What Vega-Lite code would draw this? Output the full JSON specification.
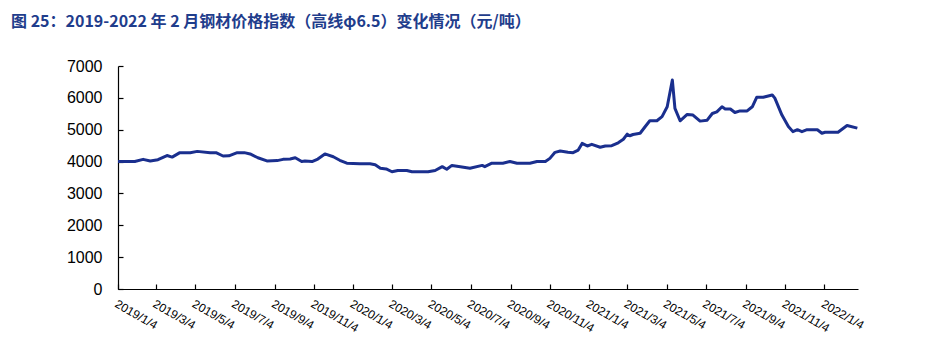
{
  "$schema": "https://vega.github.io/schema/vega-lite/v6.json",
  "width": 740,
  "height": 223,
  "autosize": {"type": "none"},
  "padding": {"left": 118, "top": 66, "right": 87, "bottom": 64},
  "background": "white",
  "title": {
    "text": "图 25：2019-2022 年 2 月钢材价格指数（高线φ6.5）变化情况（元/吨）",
    "anchor": "start",
    "frame": "group",
    "dx": -107,
    "offset": 15,
    "baseline": "alphabetic",
    "font": "Noto Sans CJK SC",
    "fontSize": 16,
    "fontWeight": "bold",
    "color": "#1f3d8c"
  },
  "config": {
    "view": {"stroke": null},
    "axis": {
      "domainColor": "#000000",
      "tickColor": "#000000",
      "labelColor": "#000000",
      "labelFont": "Liberation Sans",
      "grid": false,
      "title": null,
      "domainWidth": 1.2,
      "tickWidth": 1.2
    }
  },
  "data": {
    "values": [
      {"date": "2019-01-04", "price": 4000},
      {"date": "2019-01-30", "price": 4000},
      {"date": "2019-02-12", "price": 4070},
      {"date": "2019-02-23", "price": 4020},
      {"date": "2019-03-07", "price": 4060},
      {"date": "2019-03-21", "price": 4190},
      {"date": "2019-03-29", "price": 4140},
      {"date": "2019-04-10", "price": 4280},
      {"date": "2019-04-26", "price": 4280},
      {"date": "2019-05-07", "price": 4320},
      {"date": "2019-05-27", "price": 4280},
      {"date": "2019-06-05", "price": 4280},
      {"date": "2019-06-16", "price": 4175},
      {"date": "2019-06-25", "price": 4180},
      {"date": "2019-07-08", "price": 4280},
      {"date": "2019-07-19", "price": 4280},
      {"date": "2019-07-28", "price": 4240},
      {"date": "2019-08-09", "price": 4120},
      {"date": "2019-08-23", "price": 4020},
      {"date": "2019-09-08", "price": 4030},
      {"date": "2019-09-17", "price": 4070},
      {"date": "2019-09-28", "price": 4080},
      {"date": "2019-10-06", "price": 4120},
      {"date": "2019-10-16", "price": 4000},
      {"date": "2019-10-21", "price": 4020},
      {"date": "2019-11-01", "price": 4000},
      {"date": "2019-11-10", "price": 4080},
      {"date": "2019-11-21", "price": 4240},
      {"date": "2019-12-04", "price": 4150},
      {"date": "2019-12-14", "price": 4040},
      {"date": "2019-12-25", "price": 3950},
      {"date": "2020-01-14", "price": 3930},
      {"date": "2020-01-30", "price": 3930},
      {"date": "2020-02-07", "price": 3900},
      {"date": "2020-02-15", "price": 3790},
      {"date": "2020-02-24", "price": 3770},
      {"date": "2020-03-04", "price": 3680},
      {"date": "2020-03-13", "price": 3720},
      {"date": "2020-03-27", "price": 3720},
      {"date": "2020-04-04", "price": 3680},
      {"date": "2020-04-29", "price": 3680},
      {"date": "2020-05-10", "price": 3720},
      {"date": "2020-05-21", "price": 3840},
      {"date": "2020-05-28", "price": 3760},
      {"date": "2020-06-05", "price": 3880},
      {"date": "2020-06-18", "price": 3840},
      {"date": "2020-07-03", "price": 3790},
      {"date": "2020-07-22", "price": 3880},
      {"date": "2020-07-26", "price": 3840},
      {"date": "2020-08-06", "price": 3950},
      {"date": "2020-08-23", "price": 3950},
      {"date": "2020-09-03", "price": 4000},
      {"date": "2020-09-14", "price": 3950},
      {"date": "2020-10-04", "price": 3950},
      {"date": "2020-10-15", "price": 4000},
      {"date": "2020-10-28", "price": 4000},
      {"date": "2020-11-04", "price": 4100},
      {"date": "2020-11-12", "price": 4290},
      {"date": "2020-11-20", "price": 4330},
      {"date": "2020-12-02", "price": 4290},
      {"date": "2020-12-10", "price": 4280},
      {"date": "2020-12-18", "price": 4360},
      {"date": "2020-12-24", "price": 4570},
      {"date": "2021-01-01", "price": 4490},
      {"date": "2021-01-08", "price": 4540},
      {"date": "2021-01-21", "price": 4450},
      {"date": "2021-01-29", "price": 4490},
      {"date": "2021-02-08", "price": 4500},
      {"date": "2021-02-18", "price": 4590},
      {"date": "2021-02-26", "price": 4700},
      {"date": "2021-03-04", "price": 4860},
      {"date": "2021-03-08", "price": 4810},
      {"date": "2021-03-13", "price": 4850},
      {"date": "2021-03-24", "price": 4890},
      {"date": "2021-04-01", "price": 5100},
      {"date": "2021-04-08", "price": 5280},
      {"date": "2021-04-19", "price": 5280},
      {"date": "2021-04-27", "price": 5410},
      {"date": "2021-05-05", "price": 5720},
      {"date": "2021-05-13", "price": 6560},
      {"date": "2021-05-17", "price": 5670},
      {"date": "2021-05-25", "price": 5280},
      {"date": "2021-06-05", "price": 5480},
      {"date": "2021-06-14", "price": 5460},
      {"date": "2021-06-25", "price": 5270},
      {"date": "2021-07-06", "price": 5300},
      {"date": "2021-07-14", "price": 5510},
      {"date": "2021-07-21", "price": 5560},
      {"date": "2021-07-29", "price": 5720},
      {"date": "2021-08-03", "price": 5650},
      {"date": "2021-08-11", "price": 5650},
      {"date": "2021-08-18", "price": 5540},
      {"date": "2021-08-26", "price": 5590},
      {"date": "2021-09-06", "price": 5590},
      {"date": "2021-09-14", "price": 5720},
      {"date": "2021-09-21", "price": 6020},
      {"date": "2021-10-01", "price": 6020},
      {"date": "2021-10-15", "price": 6090},
      {"date": "2021-10-19", "price": 5990},
      {"date": "2021-10-30", "price": 5460},
      {"date": "2021-11-09", "price": 5100},
      {"date": "2021-11-16", "price": 4940},
      {"date": "2021-11-23", "price": 5000},
      {"date": "2021-11-30", "price": 4940},
      {"date": "2021-12-08", "price": 5000},
      {"date": "2021-12-24", "price": 5000},
      {"date": "2021-12-31", "price": 4890},
      {"date": "2022-01-05", "price": 4920},
      {"date": "2022-01-25", "price": 4920},
      {"date": "2022-02-08", "price": 5130},
      {"date": "2022-02-24", "price": 5050}
    ]
  },
  "mark": {"type": "line", "color": "#1a2f8e", "strokeWidth": 3, "strokeJoin": "round"},
  "encoding": {
    "x": {
      "field": "date",
      "type": "temporal",
      "scale": {
        "type": "utc",
        "domain": [
          {"year": 2019, "month": 1, "date": 4, "utc": true},
          {"year": 2022, "month": 2, "date": 25, "utc": true}
        ]
      },
      "axis": {
        "values": [
          {"year": 2019, "month": 1, "date": 4, "utc": true},
          {"year": 2019, "month": 3, "date": 4, "utc": true},
          {"year": 2019, "month": 5, "date": 4, "utc": true},
          {"year": 2019, "month": 7, "date": 4, "utc": true},
          {"year": 2019, "month": 9, "date": 4, "utc": true},
          {"year": 2019, "month": 11, "date": 4, "utc": true},
          {"year": 2020, "month": 1, "date": 4, "utc": true},
          {"year": 2020, "month": 3, "date": 4, "utc": true},
          {"year": 2020, "month": 5, "date": 4, "utc": true},
          {"year": 2020, "month": 7, "date": 4, "utc": true},
          {"year": 2020, "month": 9, "date": 4, "utc": true},
          {"year": 2020, "month": 11, "date": 4, "utc": true},
          {"year": 2021, "month": 1, "date": 4, "utc": true},
          {"year": 2021, "month": 3, "date": 4, "utc": true},
          {"year": 2021, "month": 5, "date": 4, "utc": true},
          {"year": 2021, "month": 7, "date": 4, "utc": true},
          {"year": 2021, "month": 9, "date": 4, "utc": true},
          {"year": 2021, "month": 11, "date": 4, "utc": true},
          {"year": 2022, "month": 1, "date": 4, "utc": true}
        ],
        "labelExpr": "utcFormat(datum.value, '%Y/%-m/%-d')",
        "labelAngle": 30,
        "labelAlign": "left",
        "labelBaseline": "top",
        "labelFontSize": 12,
        "labelPadding": 14,
        "labelOverlap": false,
        "labelFlush": false,
        "tickSize": -5
      }
    },
    "y": {
      "field": "price",
      "type": "quantitative",
      "scale": {"domain": [0, 7000], "nice": false, "zero": true},
      "axis": {
        "values": [0, 1000, 2000, 3000, 4000, 5000, 6000, 7000],
        "format": "d",
        "labelFontSize": 16,
        "labelPadding": 21,
        "tickSize": -5
      }
    }
  }
}
